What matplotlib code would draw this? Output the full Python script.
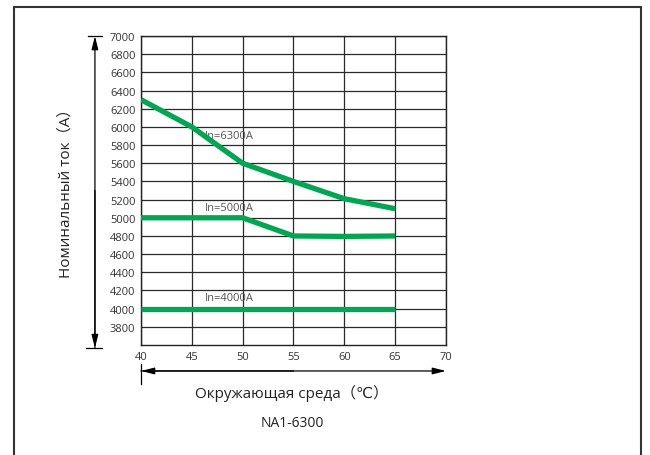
import matplotlib
matplotlib.use("Agg")
import matplotlib.pyplot as plt
from matplotlib.patches import Rectangle

# ambient temperature, deg C
temp_6300 = [40, 45, 50, 55, 60, 65]
amps_6300 = [6300, 6000, 5600, 5400, 5210, 5100]

temp_5000 = [40, 50, 55, 60, 65]
amps_5000 = [5000, 5000, 4800, 4795, 4800]

temp_4000 = [40, 65]
amps_4000 = [4000, 4000]

x_ticks = [40, 45, 50, 55, 60, 65, 70]
y_ticks = list(range(3800, 7001, 200))

GREEN = "#00a651"
plt.rcParams["font.family"] = ["Open Sans", "DejaVu Sans", "Noto Sans CJK SC"]


def main():
    fig = plt.figure(figsize=(6.5, 4.56), dpi=100)
    ax = fig.add_axes([0.2169, 0.2412, 0.4692, 0.6776])

    # frame around the whole picture
    fig.add_artist(Rectangle((0.0215, -0.01), 0.9646, 0.9925, transform=fig.transFigure,
                             fill=False, edgecolor="#333333", linewidth=1.5))

    ax.plot(temp_6300, amps_6300, color=GREEN, lw=3.8, solid_capstyle="butt", zorder=3)
    ax.plot(temp_5000, amps_5000, color=GREEN, lw=3.8, solid_capstyle="butt", zorder=3)
    ax.plot(temp_4000, amps_4000, color=GREEN, lw=3.8, solid_capstyle="butt", zorder=3)

    lab = dict(fontsize=8, color="#555555", va="center", ha="left", zorder=2)
    ax.text(46.3, 5900, "In=6300A", **lab)
    ax.text(46.3, 5110, "In=5000A", **lab)
    ax.text(46.3, 4120, "In=4000A", **lab)

    ax.set_xlim(40, 70)
    ax.set_ylim(3600, 7000)
    ax.set_xticks(x_ticks)
    ax.set_yticks(y_ticks)
    ax.tick_params(length=0, labelsize=8, labelcolor="#333333", pad=4)
    ax.grid(True, color="#2a2a2a", linewidth=0.9)
    for s in ax.spines.values():
        s.set_color("#222222")
        s.set_linewidth(1.0)

    # vertical double arrow with caps, left of the tick labels
    ax.annotate("", xy=(-0.151, 1.0), xytext=(-0.151, -0.01), xycoords="axes fraction",
                arrowprops=dict(arrowstyle="-|>,head_length=0.8,head_width=0.2", color="black",
                                lw=0.9, mutation_scale=10, shrinkA=0, shrinkB=0))
    ax.annotate("", xy=(-0.151, -0.01), xytext=(-0.151, 0.5), xycoords="axes fraction",
                arrowprops=dict(arrowstyle="-|>,head_length=0.8,head_width=0.2", color="black",
                                lw=0.9, mutation_scale=10, shrinkA=0, shrinkB=0))
    ax.plot([-0.175, -0.128], [1.0, 1.0], transform=ax.transAxes, color="black",
            lw=0.9, clip_on=False)
    ax.plot([-0.18, -0.128], [-0.01, -0.01], transform=ax.transAxes, color="black",
            lw=0.9, clip_on=False)

    # horizontal arrow under the x tick labels
    ax.annotate("", xy=(1.0, -0.084), xytext=(0.0, -0.084), xycoords="axes fraction",
                arrowprops=dict(arrowstyle="-|>,head_length=0.8,head_width=0.2", color="black",
                                lw=0.9, mutation_scale=10, shrinkA=0, shrinkB=0))
    ax.annotate("", xy=(0.0, -0.084), xytext=(0.5, -0.084), xycoords="axes fraction",
                arrowprops=dict(arrowstyle="-|>,head_length=0.8,head_width=0.2", color="black",
                                lw=0.9, mutation_scale=10, shrinkA=0, shrinkB=0))
    ax.plot([0.0, 0.0], [-0.06, -0.125], transform=ax.transAxes, color="black",
            lw=0.9, clip_on=False)

    ax.text(-0.245, 0.505, "Номинальный ток（A）", transform=ax.transAxes, rotation=90,
            ha="center", va="center", fontsize=11, color="#222222")
    ax.text(0.495, -0.152, "Окружающая среда（℃）", transform=ax.transAxes,
            ha="center", va="center", fontsize=11, color="#222222")
    ax.text(0.495, -0.252, "NA1-6300", transform=ax.transAxes,
            ha="center", va="center", fontsize=10, color="#222222")

    fig.savefig("out.png", dpi=100)


if __name__ == "__main__":
    main()
